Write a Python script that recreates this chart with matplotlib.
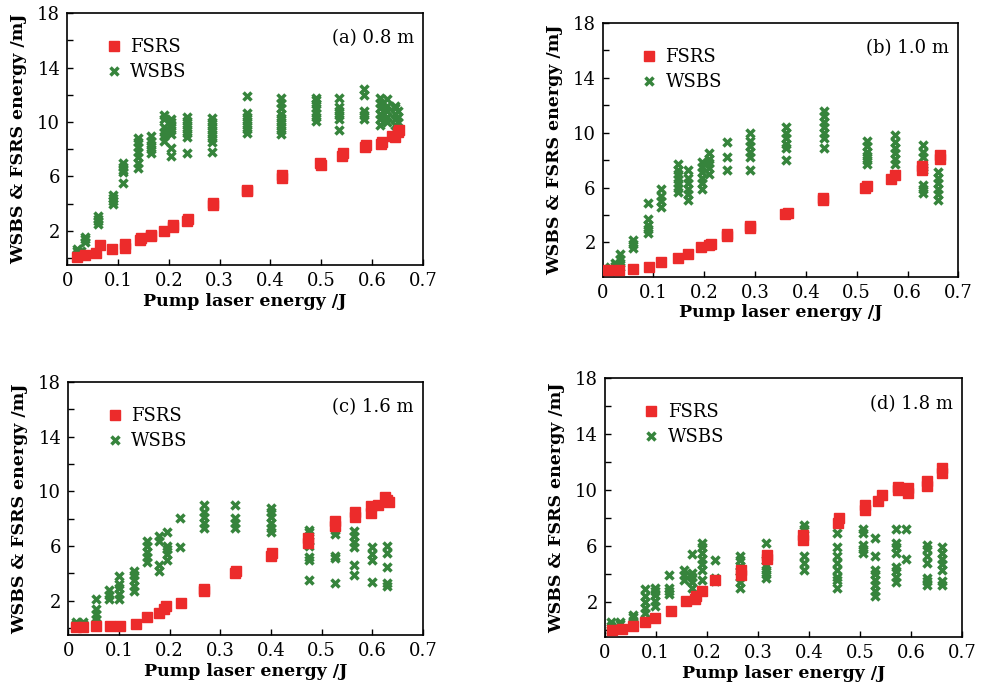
import matplotlib.pyplot as plt

# panel (a) 0.8 m
fsrs_a_x = [0.02, 0.035, 0.057, 0.065, 0.089, 0.113, 0.113, 0.144, 0.146, 0.165, 0.165, 0.19,
            0.209, 0.209, 0.237, 0.235, 0.286, 0.286, 0.354, 0.354, 0.422, 0.422, 0.499, 0.497,
            0.54, 0.542, 0.586, 0.588, 0.618, 0.62, 0.64, 0.645, 0.651, 0.654]
fsrs_a_y = [0.1, 0.24, 0.4, 0.95, 0.7, 1.07, 0.75, 1.35, 1.45, 1.73, 1.6, 1.97,
            2.44, 2.3, 2.9, 2.75, 3.9, 4.05, 4.9, 5.0, 5.92, 6.1, 6.87, 7.0,
            7.5, 7.7, 8.17, 8.3, 8.4, 8.55, 9.0, 8.9, 9.24, 9.4]
wsbs_a = [(0.02, [0.1, 0.3, 0.5, 0.7]), (0.028, [0.2, 0.5]), (0.035, [1.2, 1.4, 1.55]),
          (0.06, [2.5, 2.7, 2.9, 3.1]), (0.09, [4.0, 4.2, 4.4, 4.6]),
          (0.11, [5.5, 6.3, 6.5, 6.7, 7.0]), (0.14, [6.6, 7.0, 7.4, 7.8, 8.2, 8.5, 8.8]),
          (0.165, [7.7, 8.0, 8.3, 8.6, 9.0]), (0.19, [8.6, 9.0, 9.3, 9.6, 10.2, 10.5]),
          (0.205, [7.5, 8.1, 9.1, 9.4, 9.7, 10.0, 10.2]),
          (0.235, [7.7, 8.9, 9.2, 9.5, 9.8, 10.1, 10.4]),
          (0.285, [7.8, 8.5, 8.8, 9.1, 9.4, 9.7, 10.0, 10.3]),
          (0.353, [9.2, 9.5, 9.8, 10.1, 10.4, 10.7, 11.9]),
          (0.42, [9.1, 9.4, 9.7, 10.0, 10.3, 10.6, 11.0, 11.4, 11.8]),
          (0.49, [10.1, 10.4, 10.7, 11.0, 11.3, 11.6, 11.8]),
          (0.535, [9.4, 10.2, 10.5, 10.8, 11.1, 11.8]),
          (0.585, [10.2, 10.5, 10.8, 12.0, 12.4]),
          (0.615, [9.8, 10.2, 10.6, 11.0, 11.4, 11.8]),
          (0.63, [10.0, 10.4, 10.8, 11.2, 11.7]),
          (0.645, [9.8, 10.2, 10.6, 11.0, 11.2]), (0.652, [10.0, 10.4, 10.8])]

# panel (b) 1.0 m
fsrs_b_x = [0.01, 0.033, 0.059, 0.091, 0.114, 0.148, 0.168, 0.194, 0.214, 0.21, 0.245, 0.245,
            0.289, 0.289, 0.358, 0.364, 0.434, 0.434, 0.517, 0.52, 0.567, 0.575, 0.628, 0.628,
            0.663, 0.663]
fsrs_b_y = [0.0, 0.0, 0.07, 0.24, 0.55, 0.84, 1.15, 1.63, 1.92, 1.8, 2.59, 2.45,
            3.07, 3.2, 4.1, 4.15, 5.1, 5.25, 5.94, 6.15, 6.66, 6.9, 7.3, 7.6,
            8.1, 8.35]
wsbs_b = [(0.015, [0.0, 0.2]), (0.025, [0.0, 0.3, 0.5]), (0.035, [0.2, 0.5, 0.8, 1.15]),
          (0.06, [1.6, 1.9, 2.2]), (0.09, [2.7, 3.0, 3.3, 3.7, 4.9]),
          (0.115, [4.6, 5.0, 5.4, 5.9]), (0.148, [5.7, 6.0, 6.3, 6.6, 7.0, 7.3, 7.7]),
          (0.168, [5.1, 5.5, 5.9, 6.3, 6.7, 7.3]), (0.195, [5.9, 6.3, 6.7, 7.1, 7.5, 7.9]),
          (0.21, [7.0, 7.4, 7.8, 8.1, 8.5]), (0.245, [7.3, 8.2, 9.3]),
          (0.29, [7.3, 8.2, 8.6, 9.0, 9.4, 10.0]), (0.36, [8.0, 8.9, 9.2, 9.6, 10.0, 10.4]),
          (0.435, [8.9, 9.6, 10.0, 10.4, 10.8, 11.2, 11.6]),
          (0.52, [7.7, 8.0, 8.3, 8.6, 9.0, 9.4]), (0.575, [7.7, 8.1, 8.5, 8.9, 9.3, 9.8]),
          (0.63, [5.6, 5.9, 6.2, 7.3, 7.5, 8.2, 8.6, 9.1]),
          (0.66, [5.1, 5.5, 5.9, 6.3, 6.7, 7.1])]

# panel (c) 1.6 m
fsrs_c_x = [0.016, 0.03, 0.055, 0.082, 0.102, 0.134, 0.156, 0.18, 0.194, 0.19, 0.222, 0.268,
            0.268, 0.329, 0.331, 0.401, 0.403, 0.474, 0.474, 0.526, 0.526, 0.566, 0.566, 0.597,
            0.597, 0.612, 0.625, 0.634, 0.63]
fsrs_c_y = [0.07, 0.05, 0.14, 0.19, 0.19, 0.31, 0.79, 1.14, 1.62, 1.4, 1.86, 2.69,
            2.85, 4.05, 4.2, 5.3, 5.5, 6.6, 6.26, 7.8, 7.5, 8.5, 8.1, 8.4,
            8.9, 9.0, 9.6, 9.2, 9.4]
wsbs_c = [(0.015, [0.1, 0.3, 0.45]), (0.03, [0.1, 0.3, 0.45]),
          (0.055, [0.4, 0.7, 1.0, 1.4, 2.1]), (0.08, [2.1, 2.4, 2.8]),
          (0.1, [2.1, 2.5, 2.9, 3.2, 3.8]), (0.13, [2.7, 3.1, 3.5, 3.9, 4.2]),
          (0.155, [4.8, 5.2, 5.6, 6.0, 6.4]), (0.18, [4.2, 4.6, 6.4, 6.7]),
          (0.195, [5.0, 5.4, 5.8, 6.0, 7.0]), (0.22, [5.9, 8.05]),
          (0.268, [7.3, 7.7, 8.1, 8.5, 9.0]), (0.33, [7.3, 7.7, 8.05, 9.0]),
          (0.4, [7.0, 7.3, 7.7, 8.1, 8.5, 8.8]), (0.475, [3.5, 5.0, 5.2, 6.0, 6.4, 7.0, 7.2]),
          (0.527, [3.3, 5.1, 5.3, 6.9, 7.2, 7.45]), (0.565, [3.9, 4.6, 5.9, 6.3, 6.7, 7.1]),
          (0.6, [3.4, 5.0, 5.4, 5.9]), (0.63, [3.05, 3.3, 4.5, 5.5, 6.0])]

# panel (d) 1.8 m
fsrs_d_x = [0.015, 0.033, 0.055, 0.078, 0.098, 0.129, 0.16, 0.178, 0.176, 0.191, 0.215, 0.266,
            0.266, 0.318, 0.318, 0.388, 0.388, 0.459, 0.457, 0.51, 0.51, 0.535, 0.543, 0.574,
            0.574, 0.594, 0.594, 0.631, 0.631, 0.661, 0.661]
fsrs_d_y = [0.0, 0.07, 0.26, 0.55, 0.86, 1.33, 2.05, 2.4, 2.2, 2.76, 3.6, 4.3,
            3.95, 5.38, 5.1, 6.8, 6.45, 8.0, 7.64, 8.95, 8.6, 9.2, 9.67, 10.0,
            10.2, 10.1, 9.8, 10.6, 10.26, 11.57, 11.2]
wsbs_d = [(0.012, [0.0, 0.3, 0.6]), (0.03, [0.1, 0.4, 0.6]), (0.055, [0.26, 0.6, 0.9, 1.1]),
          (0.078, [0.74, 1.2, 1.6, 2.0, 2.4, 2.9]), (0.098, [1.7, 2.1, 2.5, 2.8, 3.0]),
          (0.125, [2.6, 2.8, 3.0, 3.95]), (0.155, [3.6, 3.9, 4.3]),
          (0.17, [3.0, 3.4, 3.8, 4.1, 5.4]), (0.19, [3.6, 4.3, 4.7, 5.1, 5.5, 5.9, 6.2]),
          (0.215, [3.5, 3.7, 5.0]), (0.265, [3.0, 3.4, 3.8, 4.2, 4.6, 5.0, 5.3]),
          (0.315, [3.7, 4.0, 4.3, 4.6, 5.0, 6.2]), (0.39, [4.3, 4.8, 5.3, 7.2, 7.5]),
          (0.455, [3.0, 3.6, 3.8, 4.3, 4.8, 5.3, 5.9, 6.9]),
          (0.505, [5.5, 5.8, 6.1, 6.9, 7.2]),
          (0.53, [2.4, 2.8, 3.2, 3.6, 4.0, 4.3, 5.3, 6.6]),
          (0.57, [3.4, 3.8, 4.2, 4.5, 5.5, 5.9, 6.2, 7.2]), (0.59, [5.1, 7.2]),
          (0.63, [3.2, 3.5, 3.7, 4.8, 5.3, 5.8, 6.1]),
          (0.66, [3.2, 3.5, 4.3, 4.7, 5.1, 5.5, 5.9])]

panels = [
    ("(a) 0.8 m", fsrs_a_x, fsrs_a_y, wsbs_a, [0.068, 0.620, 0.360, 0.361]),
    ("(b) 1.0 m", fsrs_b_x, fsrs_b_y, wsbs_b, [0.610, 0.603, 0.360, 0.364]),
    ("(c) 1.6 m", fsrs_c_x, fsrs_c_y, wsbs_c, [0.069, 0.089, 0.359, 0.363]),
    ("(d) 1.8 m", fsrs_d_x, fsrs_d_y, wsbs_d, [0.612, 0.086, 0.362, 0.372]),
]

red = '#ec2b2b'
green = '#36843c'
plt.rcParams['font.family'] = 'DejaVu Serif'

fig = plt.figure(figsize=(9.88, 6.97), dpi=100)

for title, fx, fy, wsbs, rect in panels:
    ax = fig.add_axes(rect)
    wx = [x for x, ys in wsbs for y in ys]
    wy = [y for x, ys in wsbs for y in ys]
    ax.plot(wx, wy, 'x', color=green, ms=6, mew=2.5, label='WSBS', zorder=2)
    ax.plot(fx, fy, 's', color=red, ms=6.5, mec=red, label='FSRS', zorder=3)

    ax.set_xlim(0, 0.7)
    ax.set_ylim(-0.5, 18)
    ax.set_xticks([0, 0.1, 0.2, 0.3, 0.4, 0.5, 0.6, 0.7])
    ax.set_xticklabels(['0', '0.1', '0.2', '0.3', '0.4', '0.5', '0.6', '0.7'])
    ax.set_yticks(range(0, 19, 2))
    ax.set_yticklabels(['' if v % 4 == 0 else str(v) for v in range(0, 19, 2)])
    ax.tick_params(direction='in', length=4, width=1, labelsize=13, pad=5)
    for s in ax.spines.values():
        s.set_linewidth(1.2)

    ax.set_xlabel('Pump laser energy /J', fontsize=12.5, fontweight='bold', labelpad=2)
    ax.set_ylabel('WSBS & FSRS energy /mJ', fontsize=12.5, fontweight='bold', labelpad=7)
    ax.text(0.975, 0.9, title, transform=ax.transAxes, ha='right', va='center', fontsize=13)

    h, l = ax.get_legend_handles_labels()
    ax.legend(h[::-1], l[::-1], loc='upper left', bbox_to_anchor=(0.08, 0.93),
              frameon=False, fontsize=13, handletextpad=0.3, borderaxespad=0,
              labelspacing=0.4, handlelength=1.2)

plt.savefig('out.png', dpi=100)
